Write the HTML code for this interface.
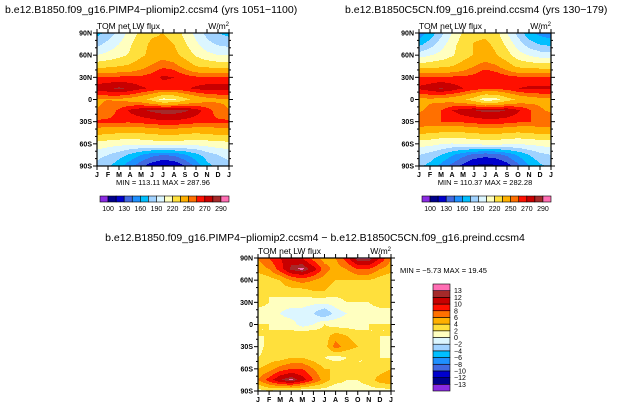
<!DOCTYPE html>
<html><head><meta charset="utf-8"><style>
body{margin:0;background:#fff;}
svg{display:block;font-family:"Liberation Sans",sans-serif;}
</style></head><body>
<svg id="s" width="631" height="411" viewBox="0 0 631 411">
<text x="5" y="13" font-size="10.5">b.e12.B1850.f09_g16.PIMP4−pliomip2.ccsm4 (yrs 1051−1100)</text>
<text x="345" y="13" font-size="10.5">b.e12.B1850C5CN.f09_g16.preind.ccsm4 (yrs 130−179)</text>
<text x="315" y="241" font-size="10.5" text-anchor="middle">b.e12.B1850.f09_g16.PIMP4−pliomip2.ccsm4 − b.e12.B1850C5CN.f09_g16.preind.ccsm4</text>
</svg>
<script>
const months=["J","F","M","A","M","J","J","A","S","O","N","D","J"];
const latLabels=["90N","60N","30N","0","30S","60S","90S"];
const levelsAbs=[100,115,130,145,160,175,190,205,220,235,250,260,270,280,290];
const levelLabelsAbs=["100","130","160","190","220","250","270","290"];
const colorsAbs=["#8b2be2","#00008b","#0000cd","#4169e1","#1e90ff","#00bfff","#a0d2ff","#dcf6ff","#ffffc0","#ffe03c","#ffb000","#ff7000","#ff1000","#c80000","#a52a2a","#ff6eb4"];
const levelsDiff=[-13,-12,-10,-8,-6,-4,-2,0,2,4,6,8,10,12,13];
const colorsDiff=["#8b2be2","#00008b","#0000cd","#4169e1","#1e90ff","#00bfff","#a0d2ff","#dcf6ff","#ffffc0","#ffe03c","#ffb000","#ff7000","#ff1000","#c80000","#a52a2a","#ff6eb4"];
// rows: 90N,75N,60N,45N,30N,15N,0,15S,30S,45S,60S,75S,90S ; cols: J..J
const fieldA=[
[170,180,195,210,225,232,235,230,215,200,185,175,170],
[185,195,205,218,230,238,240,235,222,208,195,188,185],
[205,210,215,222,232,240,245,240,230,218,210,205,205],
[230,232,235,238,245,252,258,255,245,235,232,230,230],
[262,262,262,262,262,265,272,270,265,262,262,262,262],
[275,278,282,278,272,268,265,265,268,272,275,275,275],
[248,250,248,245,240,230,215,218,230,240,245,248,248],
[250,255,262,272,278,282,285,285,282,275,265,255,250],
[262,262,262,262,264,266,268,268,266,264,262,262,262],
[240,238,236,235,236,238,240,240,238,236,238,240,240],
[215,212,210,208,210,212,214,214,212,210,212,214,215],
[195,190,182,172,160,150,145,148,158,170,182,190,195],
[185,178,165,150,135,120,112,115,130,150,170,180,185]];
const fieldB=[
[150,165,185,205,222,230,232,226,205,185,165,155,150],
[170,182,198,214,228,236,238,232,216,198,182,174,170],
[198,204,210,218,228,236,242,236,226,212,204,198,198],
[228,230,232,235,242,250,256,252,242,232,230,228,228],
[262,262,262,262,262,264,270,268,264,262,262,262,262],
[272,276,281,276,270,265,262,262,265,270,272,272,272],
[246,248,246,243,238,228,212,215,228,238,243,246,246],
[248,253,260,270,276,280,282,282,280,272,262,252,248],
[260,260,260,260,262,264,266,266,264,262,260,260,260],
[238,236,234,232,234,236,238,238,236,234,236,238,238],
[212,210,206,204,206,208,210,210,208,206,208,210,212],
[190,184,175,162,150,140,135,138,148,162,175,185,190],
[178,170,155,140,125,112,110,112,122,140,160,172,178]];
const fieldD=[
[6,8,10,11,10,7,5,6,9,13.5,13.5,10,6],
[5,6,9,12.5,13.5,11,7,5,6,8,8,6,5],
[2,3,4,6,7,6,5,4,4,4,4,3,2],
[3,2,3,3,3,4,4,3,3,3,4,3,3],
[3,2,1,1,1,0.5,0.5,1,2,2,2,3,3],
[1,1,0,-1,-1,-2,-4,-1,0,1,1,1,1],
[2,2,1,1,-1,0,2,1,1,1,2,2,2],
[2,2,3,3,4,4,3,5,4,3,2,2,2],
[1,3,4,3,2,2,3,7,5,4,3,2,1],
[2,3,3,4,4,3,2,1,2,2,2,2,2],
[4,5,7,8,8,6,4,4,3,2,2,3,4],
[6,9,12,13.5,11,8,5,3,2,2,3,5,6],
[1,2,1,1,0.5,0.5,1,0,1,1,1,1,1]];

const NS="http://www.w3.org/2000/svg";
const svg=document.getElementById('s');
function mk(tag,attrs,parent){const e=document.createElementNS(NS,tag);for(const k in attrs)e.setAttribute(k,attrs[k]);(parent||svg).appendChild(e);return e;}
function lvl(v,levels){let i=0;while(i<levels.length&&v>=levels[i])i++;return i;}
function sample(f,fx,fy){const x0=Math.min(Math.floor(fx),11),y0=Math.min(Math.floor(fy),11);const tx=fx-x0,ty=fy-y0;
 return f[y0][x0]*(1-tx)*(1-ty)+f[y0][x0+1]*tx*(1-ty)+f[y0+1][x0]*(1-tx)*ty+f[y0+1][x0+1]*tx*ty;}
function panel(name,f,levels,colors,x0,y0,w,h){
 const g=mk('g',{});
 
 
 for(let py=0;py<h;py++){
  let runStart=0,runC=-1;
  for(let px=0;px<=w;px++){
   let c=-1;
   if(px<w){c=lvl(sample(f,(px+0.5)/w*12,(py+0.5)/h*12),levels);}
   if(c!==runC){
    if(runC>=0){const r=mk('rect',{x:x0+runStart,y:y0+py,width:px-runStart,height:1.05,fill:colors[runC]},g);
     
     }
    runStart=px;runC=c;}
  }
 }
 const fr=mk('rect',{x:x0,y:y0,width:w,height:h,fill:'none',stroke:'#000','stroke-width':1.2});
 
 
 latLabels.forEach((l,i)=>{const y=y0+i*h/6;
  mk('line',{x1:x0-4,x2:x0,y1:y,y2:y,stroke:'#000','stroke-width':1});
  mk('line',{x1:x0+w,x2:x0+w+4,y1:y,y2:y,stroke:'#000','stroke-width':1});
  const t=mk('text',{x:x0-5,y:y+2.5,'font-size':7,'text-anchor':'end','font-weight':'bold'});t.textContent=l;
  
  
  for(let k=1;k<3&&i<6;k++){const yy=y+k*h/18;mk('line',{x1:x0-2,x2:x0,y1:yy,y2:yy,stroke:'#000'});mk('line',{x1:x0+w,x2:x0+w+2,y1:yy,y2:yy,stroke:'#000'});}
 });
 months.forEach((m,i)=>{const x=x0+i*w/12;
  mk('line',{x1:x,x2:x,y1:y0+h,y2:y0+h+4,stroke:'#000'});
  mk('line',{x1:x,x2:x,y1:y0-4,y2:y0,stroke:'#000'});
  const t=mk('text',{x:x,y:y0+h+11,'font-size':7,'text-anchor':'middle','font-weight':'bold'});t.textContent=m;
  
  
 });
 const t1=mk('text',{x:x0,y:y0-4,'font-size':8.5});t1.textContent='TOM net LW flux';
 
 
 const t2=mk('text',{x:x0+w,y:y0-4,'font-size':8.5,'text-anchor':'end'});t2.innerHTML='W/m<tspan font-size="6" dy="-3">2</tspan>';
 
 
}
function txt(name,x,y,s,anchor){const t=mk('text',{x:x,y:y,'font-size':7.5,'text-anchor':anchor||'middle'});t.textContent=s;
 
 }

panel('panel-pimp4',fieldA,levelsAbs,colorsAbs,97,33,132,133);
panel('panel-preind',fieldB,levelsAbs,colorsAbs,419,33,132,133);
panel('panel-diff',fieldD,levelsDiff,colorsDiff,258,258,133,133);
txt('minmax-left',163,185,'MIN = 113.11  MAX = 287.96');
txt('minmax-right',485,185,'MIN = 110.37  MAX = 282.28');
txt('minmax-diff',400,273,'MIN =  −5.73  MAX =  19.45','start');
const idxAbs=[0,2,4,6,8,10,12,14];
(function(){
 [[100,196],[422,196]].forEach(([x0,y0],p)=>{
  const bw=129/16;
  colorsAbs.forEach((c,i)=>{const r=mk('rect',{x:x0+i*bw,y:y0,width:bw,height:6,fill:c,stroke:'#000','stroke-width':0.6});
   
   });
  levelLabelsAbs.forEach((l,k)=>{const t=mk('text',{x:x0+(idxAbs[k]+1)*bw,y:y0+15,'font-size':7,'text-anchor':'middle'});t.textContent=l;
   
   });
 });
 const x0=433,y0=284,bh=107/16;
 colorsDiff.forEach((c,i)=>{const r=mk('rect',{x:x0,y:y0+(15-i)*bh,width:17,height:bh,fill:c,stroke:'#000','stroke-width':0.6});
  
  });
 levelsDiff.forEach((l,i)=>{const t=mk('text',{x:x0+21,y:y0+(15-i)*bh+2.5,'font-size':7});t.textContent=String(l).replace('-','−');
  
  });
})();
</script>
</body></html>
